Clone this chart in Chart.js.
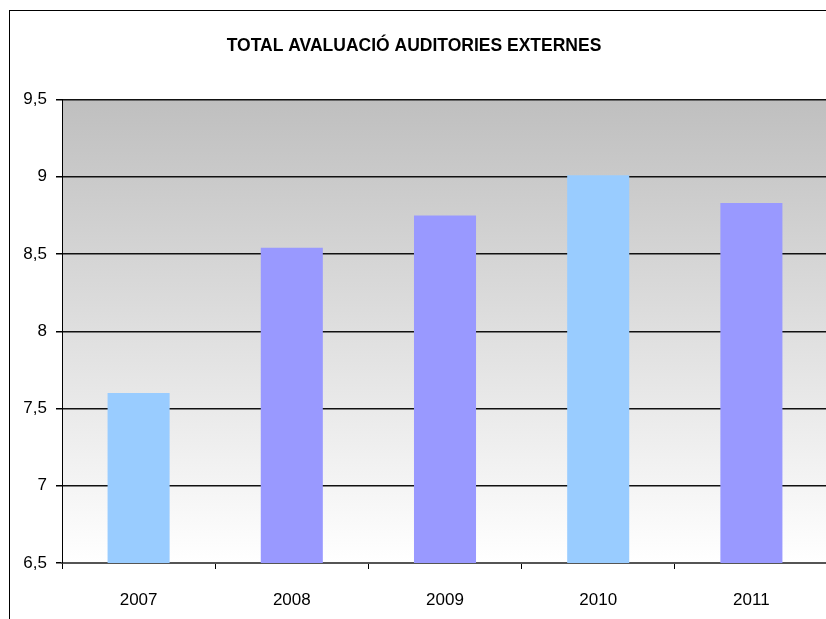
<!DOCTYPE html>
<html>
<head>
<meta charset="utf-8">
<script src="https://cdn.jsdelivr.net/npm/chart.js@4/dist/chart.umd.min.js"></script>
<style>
  html, body { margin: 0; padding: 0; overflow: hidden; background: #fff; }
  #wrap { width: 840px; height: 619px; }
</style>
</head>
<body>
<div id="wrap"><canvas id="auditChart" width="840" height="619"></canvas></div>
<script>
// years on the x axis
const years = ["2007", "2008", "2009", "2010", "2011"];

// total score of external audits per year
const scores = [7.6, 8.54, 8.75, 9.01, 8.83];

// bar fill per year (light blue / lavender)
const barColors = ["#99CCFF", "#9999FF", "#9999FF", "#99CCFF", "#9999FF"];

const chartTitle = "TOTAL AVALUACIÓ AUDITORIES EXTERNES";
const fontFamily = "'Liberation Sans', Arial, sans-serif";

//#region plugins
// grey-to-white gradient behind the plot area + outer frame
const plotBackground = {
  id: "plotBackground",
  beforeDraw(chart) {
    const { ctx, chartArea } = chart;
    const g = ctx.createLinearGradient(0, chartArea.top, 0, chartArea.bottom);
    g.addColorStop(0, "#BFBFBF");
    g.addColorStop(1, "#FFFFFF");
    ctx.save();
    ctx.fillStyle = g;
    ctx.fillRect(chartArea.left, chartArea.top, chartArea.right - chartArea.left, chartArea.bottom - chartArea.top);
    ctx.restore();
  },
  afterDraw(chart) {
    const ctx = chart.ctx;
    ctx.save();
    ctx.strokeStyle = "#000";
    ctx.lineWidth = 1;
    ctx.strokeRect(9.5, 10.5, 900, 700);
    ctx.restore();
  },
};
//#endregion

const ctx = document.getElementById("auditChart").getContext("2d");

new Chart(ctx, {
  type: "bar",
  data: {
    labels: years,
    datasets: [
      {
        data: scores,
        backgroundColor: barColors,
        borderWidth: 0,
        barPercentage: 0.405,
        categoryPercentage: 1,
      },
    ],
  },
  options: {
    responsive: false,
    animation: false,
    layout: { padding: { left: 0, right: 12, top: 0, bottom: 0 } },
    plugins: {
      legend: { display: false },
      tooltip: { enabled: false },
      title: {
        display: true,
        text: chartTitle,
        color: "#000",
        font: { family: fontFamily, size: 17.5, weight: "bold", lineHeight: 1 },
        padding: { top: 37, bottom: 45 },
      },
    },
    scales: {
      x: {
        grid: {
          offset: true,
          drawOnChartArea: false,
          drawTicks: true,
          tickLength: 6,
          color: "#000",
        },
        border: { display: true, color: "#555", width: 2 },
        ticks: {
          color: "#000",
          font: { family: fontFamily, size: 17 },
          padding: 21,
        },
        afterFit: (s) => { s.height = 56; },
      },
      y: {
        min: 6.5,
        max: 9.5,
        grid: {
          color: "#111",
          lineWidth: 1.5,
          tickLength: 6,
          tickColor: "#000",
        },
        border: { display: true, color: "#000", width: 1 },
        ticks: {
          stepSize: 0.5,
          color: "#000",
          font: { family: fontFamily, size: 17 },
          padding: 9,
          callback: (v) => v.toString().replace(".", ","),
        },
        afterFit: (s) => { s.width = 62; },
      },
    },
  },
  plugins: [plotBackground],
});
</script>
</body>
</html>
